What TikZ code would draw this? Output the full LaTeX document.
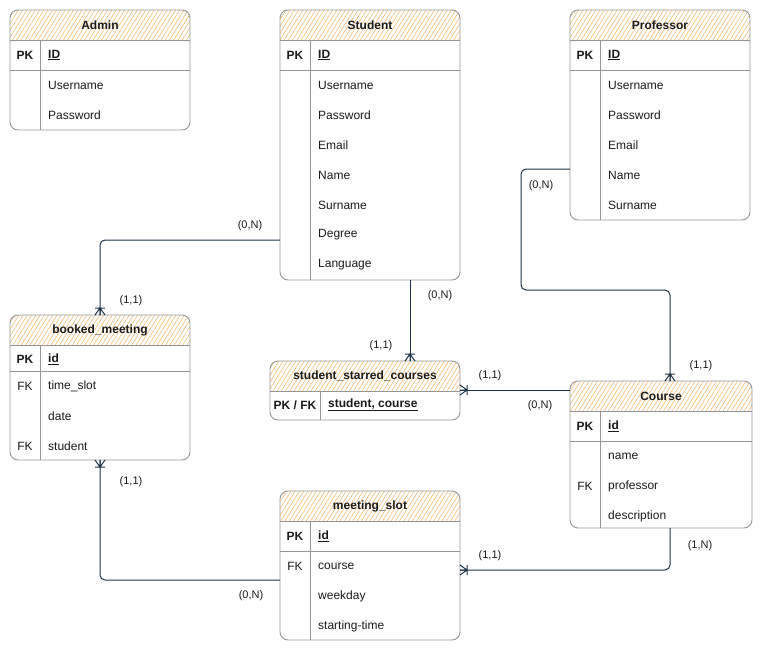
\documentclass[tikz,border=0pt]{standalone}
\usepackage{fontspec}
\setmainfont{Liberation Sans}
\usetikzlibrary{calc,patterns.meta}
\definecolor{linec}{HTML}{959595}
\definecolor{connc}{HTML}{1E3246}
\definecolor{hatchc}{HTML}{F7BE80}
\definecolor{txtc}{HTML}{1A1A1A}
\tikzset{
  frame/.style={inner sep=0pt, outer sep=0pt, anchor=north west},
  tline/.style={draw=linec, line width=0.9pt},
  hatch/.style={pattern={Lines[angle=58,distance=3.6pt,line width=0.65pt]}, pattern color=hatchc},
  ttl/.style={font=\fontsize{12}{14}\selectfont\bfseries, text=txtc, inner sep=0pt},
  fld/.style={font=\fontsize{12}{14}\selectfont, text=txtc, anchor=west, inner sep=0pt},
  fldk/.style={font=\fontsize{12}{14}\selectfont\bfseries, text=txtc, anchor=west, inner sep=0pt},
  key/.style={font=\fontsize{12}{14}\selectfont, text=txtc, inner sep=0pt},
  keyb/.style={font=\fontsize{12}{14}\selectfont\bfseries, text=txtc, inner sep=0pt},
  card/.style={font=\fontsize{11}{13}\selectfont, text=txtc, inner sep=0pt},
  conn/.style={draw=connc, line width=1pt, rounded corners=5pt},
  crow/.pic={\draw[draw=connc, line width=1pt] (0,-5) -- (7,0) -- (0,5) (7,-5) -- (7,5) (0,0) -- (7,0);},
}
% name, x, y, w, h, title, divider offset, separator offset (empty = none)
\newcommand\ertable[8]{%
  \node[frame, minimum width=#4pt, minimum height=#5pt] (#1) at (#2,#3) {};
  \begin{scope}
    \clip[rounded corners=8pt] (#1.north west) rectangle (#1.south east);
    \path[hatch] (#1.north west) rectangle ($(#1.north east)+(0,30)$);
  \end{scope}
  \draw[tline, rounded corners=8pt] (#1.north west) rectangle (#1.south east);
  \draw[tline] ($(#1.north west)+(0,30)$) -- ($(#1.north east)+(0,30)$);
  \ifx\relax#8\relax\else
    \draw[tline] ($(#1.north west)+(0,#8)$) -- ($(#1.north east)+(0,#8)$);
  \fi
  \draw[tline] ($(#1.north west)+(#7,30)$) -- ($(#1.south west)+(#7,0)$);
  \node[ttl] (#1-t) at ($(#1.north)+(0,15)$) {#6};
}
\begin{document}
\begin{tikzpicture}[x=1pt,y=-1pt]
\useasboundingbox (0,0) rectangle (761,651);

% ---------- tables ----------
\ertable{admin}{10}{10}{180}{120}{Admin}{30}{60}
\node[keyb] (ad-pk) at (25,55) {PK};
\node[fldk] (ad-id) at (48,55) {\underline{ID}};
\node[fld] (ad-un) at (48,85) {Username};
\node[fld] (ad-pw) at (48,115) {Password};

\ertable{student}{280}{10}{180}{270}{Student}{30}{60}
\node[keyb] (st-pk) at (295,55) {PK};
\node[fldk] (st-id) at (318,55) {\underline{ID}};
\node[fld] (st-un) at (318,85) {Username};
\node[fld] (st-pw) at (318,115) {Password};
\node[fld] (st-em) at (318,145) {Email};
\node[fld] (st-na) at (318,175) {Name};
\node[fld] (st-su) at (318,205) {Surname};
\node[fld] (st-de) at (318,235) {Degree};
\node[fld] (st-la) at (318,265) {Language};

\ertable{prof}{570}{10}{180}{210}{Professor}{30}{60}
\node[keyb] (pr-pk) at (585,55) {PK};
\node[fldk] (pr-id) at (608,55) {\underline{ID}};
\node[fld] (pr-un) at (608,85) {Username};
\node[fld] (pr-pw) at (608,115) {Password};
\node[fld] (pr-em) at (608,145) {Email};
\node[fld] (pr-na) at (608,175) {Name};
\node[fld] (pr-su) at (608,205) {Surname};

\ertable{bm}{10}{315}{180}{145}{booked\_meeting}{30}{56}
\node[keyb] (bm-pk) at (25,359) {PK};
\node[fldk] (bm-id) at (48,359) {\underline{id}};
\node[key] (bm-fk1) at (25,386) {FK};
\node[fld] (bm-ts) at (48,386) {time\_slot};
\node[fld] (bm-da) at (48,416) {date};
\node[key] (bm-fk2) at (25,446) {FK};
\node[fld] (bm-st) at (48,446) {student};

\ertable{ssc}{270}{361}{190}{59}{student\_starred\_courses}{50}{}
\node[keyb] (ss-pk) at (295,405) {PK / FK};
\node[fldk] (ss-f) at (328,405) {\underline{student, course}};

\ertable{course}{570}{381}{182}{147}{Course}{30}{60}
\node[keyb] (co-pk) at (585,426) {PK};
\node[fldk] (co-id) at (608,426) {\underline{id}};
\node[fld] (co-na) at (608,456) {name};
\node[key] (co-fk) at (585,486) {FK};
\node[fld] (co-pr) at (608,486) {professor};
\node[fld] (co-de) at (608,516) {description};

\ertable{ms}{280}{491}{180}{149}{meeting\_slot}{30}{60}
\node[keyb] (ms-pk) at (295,536) {PK};
\node[fldk] (ms-id) at (318,536) {\underline{id}};
\node[key] (ms-fk) at (295,566) {FK};
\node[fld] (ms-co) at (318,566) {course};
\node[fld] (ms-wd) at (318,596) {weekday};
\node[fld] (ms-stt) at (318,626) {starting-time};

% ---------- connectors ----------
% Student -> booked_meeting
\draw[conn] ($(student.north west)+(0,230)$) -| (bm.north);
\pic[rotate=90] at (bm.north) {crow};
\node[card] (c1a) at (250,226) {(0,N)};
\node[card] (c1b) at (131,301) {(1,1)};

% Student -> student_starred_courses
\draw[conn] ($(student.south west)+(130,0)$) -- ($(ssc.north west)+(140,0)$);
\pic[rotate=90] at ($(ssc.north west)+(140,0)$) {crow};
\node[card] (c2a) at (440,296) {(0,N)};
\node[card] (c2b) at (381,346) {(1,1)};

% Professor -> Course
\draw[conn] ($(prof.north west)+(0,159)$) -- ++(-49,0) |- ($(course.north west)+(100,-91)$) -- ($(course.north west)+(100,0)$);
\pic[rotate=90] at ($(course.north west)+(100,0)$) {crow};
\node[card] (c3a) at (541,186) {(0,N)};
\node[card] (c3b) at (701,366) {(1,1)};

% Course -> student_starred_courses
\draw[conn] ($(course.north west)+(0,9)$) -- ($(ssc.north east)+(0,29)$);
\pic at ($(ssc.north east)+(0,29)$) {crow};
\node[card] (c4a) at (490,376) {(1,1)};
\node[card] (c4b) at (540,406) {(0,N)};

% meeting_slot -> booked_meeting
\draw[conn] ($(ms.north west)+(0,89)$) -| (bm.south);
\pic[rotate=-90] at (bm.south) {crow};
\node[card] (c5a) at (131,482) {(1,1)};
\node[card] (c5b) at (251,596) {(0,N)};

% Course -> meeting_slot
\draw[conn] ($(course.south west)+(100,0)$) |- ($(ms.north east)+(0,79)$);
\pic at ($(ms.north east)+(0,79)$) {crow};
\node[card] (c6a) at (700,546) {(1,N)};
\node[card] (c6b) at (490,556) {(1,1)};
\end{tikzpicture}
\end{document}
